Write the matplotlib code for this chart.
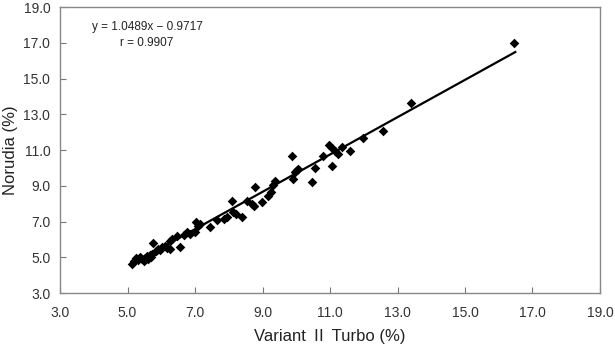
import numpy as np
import matplotlib.pyplot as plt

plt.rcParams['font.family'] = ['Liberation Sans', 'Noto Sans CJK KR', 'DejaVu Sans']

# values
variant = [5.13, 5.19, 5.25, 5.31, 5.37, 5.42, 5.49, 5.52, 5.58, 5.61,
           5.67, 5.70, 5.72, 5.75, 5.84, 5.91, 5.97, 6.02, 6.11, 6.17,
           6.26, 6.26, 6.31, 6.47, 6.56, 6.67, 6.76, 6.86, 7.00, 7.03,
           7.09, 7.15, 7.45, 7.65, 7.86, 7.95, 8.09, 8.12, 8.22, 8.39,
           8.54, 8.69, 8.75, 8.78, 8.98, 9.17, 9.25, 9.31, 9.37, 9.87,
           9.90, 9.96, 10.02, 10.06, 10.46, 10.56, 10.79, 10.98, 11.06, 11.15,
           11.06, 11.24, 11.35, 11.59, 11.98, 12.57, 13.40, 16.45]
norudia = [4.62, 4.79, 4.96, 4.85, 5.01, 4.90, 4.79, 4.96, 5.07, 4.90,
           5.13, 5.01, 5.18, 5.80, 5.35, 5.46, 5.41, 5.57, 5.63, 5.52,
           5.91, 5.46, 6.02, 6.19, 5.57, 6.24, 6.41, 6.30, 6.41, 6.97,
           6.75, 6.86, 6.69, 7.08, 7.14, 7.25, 8.15, 7.53, 7.42, 7.25,
           8.15, 7.98, 7.87, 8.93, 8.09, 8.43, 8.65, 9.04, 9.27, 10.66,
           9.38, 9.77, 9.88, 9.94, 9.21, 9.99, 10.66, 11.28, 11.11, 10.94,
           10.10, 10.78, 11.17, 10.94, 11.67, 12.06, 13.63, 16.99]

trend_x = [5.13, 16.49]
trend_y = [4.62, 16.48]

ticks = np.arange(3, 19.1, 2)

fig = plt.figure(figsize=(6.15, 3.52), dpi=100)
ax = fig.add_axes([0.0976, 0.1676, 0.878, 0.8125])

ax.scatter(variant, norudia, marker='D', s=24, color='black', zorder=3, linewidths=0)
ax.plot(trend_x, trend_y, color='black', lw=1.6, zorder=2)

ax.set_xlim(3, 19)
ax.set_ylim(3, 19)
ax.set_xticks(ticks)
ax.set_yticks(ticks)
ax.set_xticklabels([f'{t:.1f}' for t in ticks])
ax.set_yticklabels([f'{t:.1f}' for t in ticks])
ax.tick_params(direction='in', length=4, color='#777777', labelsize=10,
               labelcolor='#333333')
ax.tick_params(axis='x', pad=9)
ax.tick_params(axis='y', pad=7)
for s in ax.spines.values():
    s.set_color('#888888')
    s.set_linewidth(1)

ax.set_xlabel('Variant \u2161 Turbo (%)', fontsize=12, color='#222222', labelpad=7)
ax.set_ylabel('Norudia (%)', fontsize=12, color='#222222', labelpad=4)

ax.text(5.58, 17.41, 'y = 1.0489x \u2212 0.9717\nr = 0.9907', ha='center', va='center',
        fontsize=8.5, color='#222222', linespacing=1.45)

fig.savefig('out.png', dpi=100)
